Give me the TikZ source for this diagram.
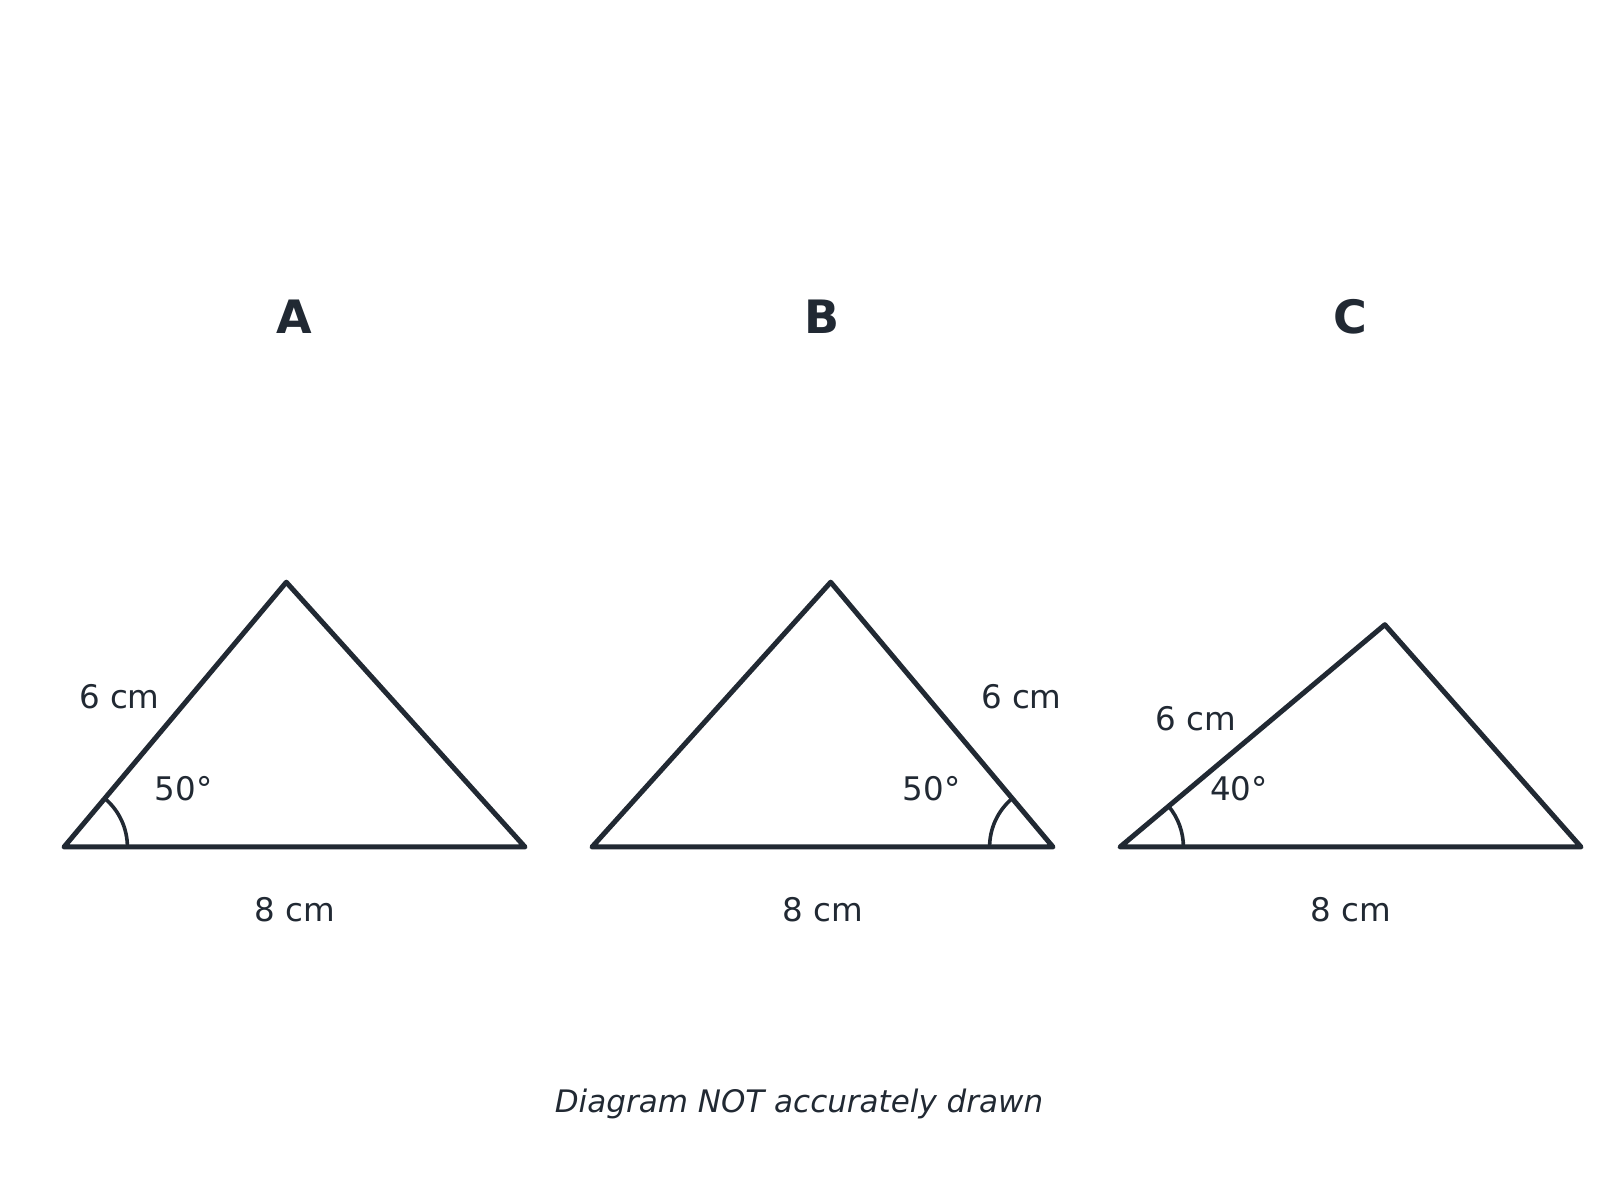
\documentclass[tikz,border=0pt]{standalone}
\usepackage{fontspec}
\setmainfont{DejaVu Sans}
\definecolor{ink}{HTML}{212933}
\begin{document}
\begin{tikzpicture}[x=1pt,y=1pt,
  tri/.style={draw=ink,line width=5pt,line join=round,line cap=round},
  angarc/.style={draw=ink,line width=3.6pt},
  lbl/.style={text=ink,anchor=base,inner sep=0pt,font=\fontsize{32.5}{38}\selectfont},
  ttl/.style={text=ink,anchor=base,inner sep=0pt,font=\fontsize{46}{54}\selectfont\bfseries},
  notestyle/.style={text=ink,anchor=base,inner sep=0pt,font=\fontsize{31}{36}\selectfont\itshape}]
\useasboundingbox (0,0) rectangle (1600,1200);
% Triangle A
\coordinate (aL) at (64,353);
\coordinate (aR) at (525,353);
\coordinate (aT) at (286.3,617.8);
\draw[tri] (aL) -- (aT) -- (aR) -- cycle;
\draw[angarc] ([shift={(63.4,0)}]aL) arc[start angle=0,end angle=50,radius=63.4];
\node[ttl] (tA) at (294.5,866.5) {A};
\node[lbl] (sA) at (119.4,491) {6 cm};
\node[lbl] (gA) at (183.7,399) {50°};
\node[lbl] (bA) at (294.5,278.5) {8 cm};
% Triangle B
\coordinate (bL) at (592,353);
\coordinate (bR) at (1053,353);
\coordinate (bT) at (830.7,617.8);
\draw[tri] (bL) -- (bT) -- (bR) -- cycle;
\draw[angarc] ([shift={(-63.4,0)}]bR) arc[start angle=180,end angle=130,radius=63.4];
\node[ttl] (tB) at (822.5,866.5) {B};
\node[lbl] (sB) at (1021.4,491) {6 cm};
\node[lbl] (gB) at (931.6,399) {50°};
\node[lbl] (bB) at (822.5,278.5) {8 cm};
% Triangle C
\coordinate (cL) at (1120,353);
\coordinate (cR) at (1581,353);
\coordinate (cT) at (1384.8,575.3);
\draw[tri] (cL) -- (cT) -- (cR) -- cycle;
\draw[angarc] ([shift={(63.4,0)}]cL) arc[start angle=0,end angle=40,radius=63.4];
\node[ttl] (tC) at (1350.5,866.5) {C};
\node[lbl] (sC) at (1195.9,469.3) {6 cm};
\node[lbl] (gC) at (1238.8,399) {40°};
\node[lbl] (bC) at (1350.5,278.5) {8 cm};
% Caption
\node[notestyle] (note) at (799,88) {Diagram NOT accurately drawn};
\end{tikzpicture}
\end{document}
